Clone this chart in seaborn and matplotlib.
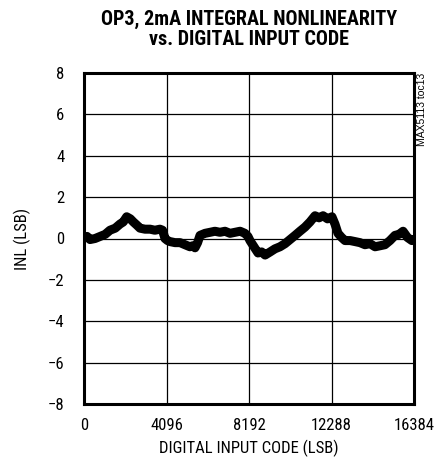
import matplotlib
matplotlib.use("Agg")
import matplotlib.pyplot as plt
import seaborn as sns
import pandas as pd

# -----------------------------
# Dados
# -----------------------------
codes = [0, 150, 300, 550, 800, 1050, 1290, 1550, 1790, 1950, 2120, 2300, 2450,
         2620, 2780, 3030, 3280, 3520, 3770, 3900, 4020, 4150, 4270, 4520, 4770,
         5010, 5260, 5400, 5510, 5640, 5760, 6010, 6260, 6500, 6750, 7000, 7250,
         7500, 7750, 7990, 8140, 8240, 8440, 8640, 8820, 8990, 9240, 9480, 9730,
         9980, 10230, 10480, 10720, 10970, 11220, 11470, 11670, 11870, 12090,
         12310, 12460, 12610, 12790, 12960, 13210, 13460, 13700, 13950, 14200,
         14450, 14700, 14940, 15190, 15440, 15640, 15840, 16060, 16280, 16384]
inl = [0.05, 0.1, -0.05, 0.0, 0.1, 0.2, 0.4, 0.5, 0.7, 0.8, 1.05, 0.95, 0.8,
       0.65, 0.5, 0.45, 0.45, 0.4, 0.45, 0.4, 0.0, -0.1, -0.15, -0.2, -0.2,
       -0.3, -0.4, -0.35, -0.45, -0.2, 0.15, 0.25, 0.3, 0.35, 0.3, 0.35, 0.25,
       0.3, 0.35, 0.25, 0.1, -0.1, -0.4, -0.7, -0.65, -0.8, -0.65, -0.5, -0.4,
       -0.25, -0.05, 0.15, 0.35, 0.55, 0.8, 1.1, 1.0, 1.1, 0.95, 1.05, 0.7,
       0.25, 0.05, -0.1, -0.1, -0.15, -0.2, -0.3, -0.25, -0.4, -0.35, -0.3,
       -0.1, 0.15, 0.2, 0.35, 0.05, -0.1, -0.05]

x_ticks = [0, 4096, 8192, 12288, 16384]
y_ticks = [-8, -6, -4, -2, 0, 2, 4, 6, 8]

df = pd.DataFrame({"code": codes, "inl": inl})

# -----------------------------
# Figura
# -----------------------------
sns.set_style("white")
plt.rcParams['font.family'] = ['Roboto Condensed', 'DejaVu Sans']
plt.rcParams['text.color'] = 'black'
plt.rcParams['axes.labelcolor'] = 'black'

fig = plt.figure(figsize=(4.36, 4.63), dpi=100)
ax = fig.add_axes([84 / 436, 59 / 463, 330 / 436, 331 / 463])

sns.lineplot(data=df, x="code", y="inl", color="black", linewidth=6.5,
             sort=True, ax=ax, solid_joinstyle="round")

ax.set_xlim(0, 16384)
ax.set_ylim(-8, 8)
ax.set_xticks(x_ticks)
ax.set_yticks(y_ticks)
ax.set_xticklabels([str(t) for t in x_ticks])
ax.tick_params(axis="both", length=0, labelsize=12, colors="black")
ax.tick_params(axis="x", pad=10)
ax.tick_params(axis="y", pad=14)

for t in x_ticks[1:-1]:
    ax.axvline(t, color="black", lw=0.9, zorder=0)
for t in y_ticks[1:-1]:
    ax.axhline(t, color="black", lw=0.9, zorder=0)

for s in ax.spines.values():
    s.set_color("black")
    s.set_linewidth(2.2)

ax.set_xlabel("DIGITAL INPUT CODE (LSB)", fontsize=12, labelpad=5)
ax.set_ylabel("INL (LSB)", fontsize=12, labelpad=12)

fig.text(0.571, 0.978, "OP3, 2mA INTEGRAL NONLINEARITY\nvs. DIGITAL INPUT CODE",
         ha="center", va="top", fontsize=14.5, fontweight="heavy", linespacing=1.05)
fig.text(0.968, 0.842, "MAX5113 toc13", rotation=90, ha="center", va="top",
         fontsize=7.5, family="Liberation Sans")

fig.savefig("out.png", dpi=100)
